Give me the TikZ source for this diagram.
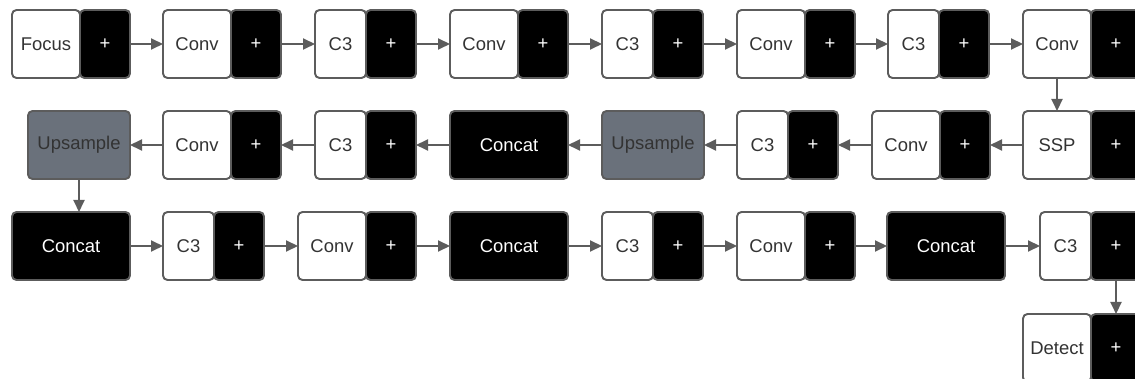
\documentclass[tikz,border=0pt]{standalone}
\usepackage{fontspec}
\setmainfont{Liberation Sans}
\usetikzlibrary{positioning}
\usetikzlibrary{arrows.meta}
\definecolor{edgegray}{HTML}{5C5C5C}
\definecolor{slate}{HTML}{6A717B}
\definecolor{ink}{HTML}{333333}
\tikzstyle{layer} = [draw=edgegray, fill=white, text=ink]
\tikzstyle{plus} = [draw=edgegray, fill=black, text=white, minimum width=10mm]
\tikzstyle{merge} = [draw=edgegray, fill=black, text=white, minimum width=23.6mm]
\tikzstyle{upsmp} = [draw=edgegray, fill=slate, text=ink, minimum width=20.4mm]
\tikzstyle{flow} = [draw=edgegray, line width=1.1pt, -{Triangle[length=2.4mm,width=2.2mm]}]

\begin{document}
\begin{tikzpicture}[
  x=0.2mm, y=-0.2mm,
  every node/.style={rectangle, rounded corners=0.9mm, line width=1.1pt, outer sep=0pt,
    minimum height=13.6mm, inner sep=0pt, font=\fontsize{10.5}{12}\selectfont},
  wide/.style={minimum width=13.6mm},
  narrow/.style={minimum width=10.2mm},
]
\useasboundingbox (0,0) rectangle (1135,379);

% backbone
\node[layer, wide, anchor=west] (focus) at (12,44) {Focus};
\node[plus, right=0pt of focus] (focusp) {+};
\node[layer, wide, anchor=west] (conva) at (163,44) {Conv};
\node[plus, right=0pt of conva] (convap) {+};
\node[layer, narrow, anchor=west] (cba) at (315,44) {C3};
\node[plus, right=0pt of cba] (cbap) {+};
\node[layer, wide, anchor=west] (convb) at (450,44) {Conv};
\node[plus, right=0pt of convb] (convbp) {+};
\node[layer, narrow, anchor=west] (cbb) at (602,44) {C3};
\node[plus, right=0pt of cbb] (cbbp) {+};
\node[layer, wide, anchor=west] (convc) at (737,44) {Conv};
\node[plus, right=0pt of convc] (convcp) {+};
\node[layer, narrow, anchor=west] (cbc) at (888,44) {C3};
\node[plus, right=0pt of cbc] (cbcp) {+};
\node[layer, wide, anchor=west] (convd) at (1023,44) {Conv};
\node[plus, right=0pt of convd] (convdp) {+};

% head, going left
\node[layer, wide, anchor=west] (ssp) at (1023,145) {SSP};
\node[plus, right=0pt of ssp] (sspp) {+};
\node[layer, wide, anchor=west] (conve) at (872,145) {Conv};
\node[plus, right=0pt of conve] (convep) {+};
\node[layer, narrow, anchor=west] (cbd) at (737,145) {C3};
\node[plus, right=0pt of cbd] (cbdp) {+};
\node[upsmp, anchor=west] (upa) at (602,145) {Upsample};
\node[merge, anchor=west] (cata) at (450,145) {Concat};
\node[layer, narrow, anchor=west] (cbe) at (315,145) {C3};
\node[plus, right=0pt of cbe] (cbep) {+};
\node[layer, wide, anchor=west] (convf) at (163,145) {Conv};
\node[plus, right=0pt of convf] (convfp) {+};
\node[upsmp, anchor=west] (upb) at (28,145) {Upsample};

% head, going right
\node[merge, anchor=west] (catb) at (12,246) {Concat};
\node[layer, narrow, anchor=west] (cbf) at (163,246) {C3};
\node[plus, right=0pt of cbf] (cbfp) {+};
\node[layer, wide, anchor=west] (convg) at (298,246) {Conv};
\node[plus, right=0pt of convg] (convgp) {+};
\node[merge, anchor=west] (catc) at (450,246) {Concat};
\node[layer, narrow, anchor=west] (cbg) at (602,246) {C3};
\node[plus, right=0pt of cbg] (cbgp) {+};
\node[layer, wide, anchor=west] (convh) at (737,246) {Conv};
\node[plus, right=0pt of convh] (convhp) {+};
\node[merge, anchor=west] (catd) at (887,246) {Concat};
\node[layer, narrow, anchor=west] (cbh) at (1040,246) {C3};
\node[plus, right=0pt of cbh] (cbhp) {+};

\node[layer, wide, anchor=west] (detect) at (1023,348) {Detect};
\node[plus, right=0pt of detect] (detectp) {+};

% connectors
\draw[flow] (focusp) -- (conva);
\draw[flow] (convap) -- (cba);
\draw[flow] (cbap) -- (convb);
\draw[flow] (convbp) -- (cbb);
\draw[flow] (cbbp) -- (convc);
\draw[flow] (convcp) -- (cbc);
\draw[flow] (cbcp) -- (convd);
\draw[flow] (convd) -- (ssp);
\draw[flow] (ssp) -- (convep);
\draw[flow] (conve) -- (cbdp);
\draw[flow] (cbd) -- (upa);
\draw[flow] (upa) -- (cata);
\draw[flow] (cata) -- (cbep);
\draw[flow] (cbe) -- (convfp);
\draw[flow] (convf) -- (upb);
\draw[flow] (upb.south) -- (upb.south |- catb.north);
\draw[flow] (catb) -- (cbf);
\draw[flow] (cbfp) -- (convg);
\draw[flow] (convgp) -- (catc);
\draw[flow] (catc) -- (cbg);
\draw[flow] (cbgp) -- (convh);
\draw[flow] (convhp) -- (catd);
\draw[flow] (catd) -- (cbh);
\draw[flow] (cbhp) -- (detectp);
\end{tikzpicture}
\end{document}
